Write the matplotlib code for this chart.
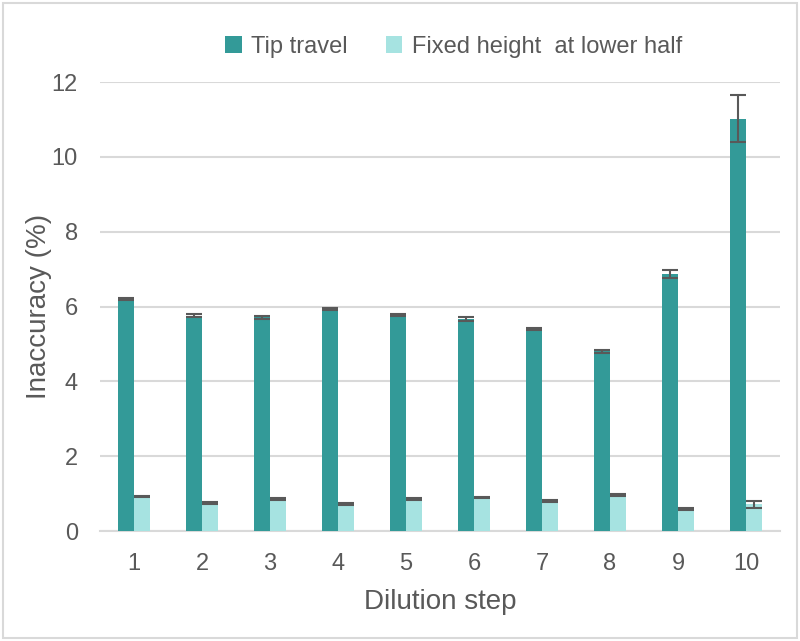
import matplotlib.pyplot as plt
import numpy as np
from matplotlib.patches import Rectangle

plt.rcParams['font.family'] = ['Liberation Sans', 'DejaVu Sans']

steps = ['1', '2', '3', '4', '5', '6', '7', '8', '9', '10']
tip_travel = [6.20, 5.75, 5.71, 5.93, 5.78, 5.66, 5.40, 4.80, 6.86, 11.02]
tip_err = [0.03, 0.04, 0.05, 0.03, 0.03, 0.05, 0.03, 0.04, 0.11, 0.63]
fixed_height = [0.92, 0.75, 0.86, 0.72, 0.86, 0.90, 0.81, 0.96, 0.59, 0.71]
fixed_err = [0.02, 0.02, 0.02, 0.02, 0.03, 0.02, 0.03, 0.02, 0.03, 0.10]

dark = '#339a98'
light = '#a6e3e1'
grey = '#595959'

fig = plt.figure(figsize=(8, 6.41), dpi=100)
ax = fig.add_axes([0.125, 0.1716, 0.85, 0.7004])

x = np.arange(len(steps))
w = 0.235
ekw = dict(ecolor=grey, elinewidth=1.5, capsize=6, capthick=1.5)
ax.bar(x - w / 2, tip_travel, w, color=dark, yerr=tip_err, error_kw=ekw,
       label='Tip travel', zorder=3)
ax.bar(x + w / 2, fixed_height, w, color=light, yerr=fixed_err, error_kw=ekw,
       label='Fixed height  at lower half', zorder=3)

ax.set_xlim(-0.5, len(steps) - 0.5)
ax.set_ylim(0, 12)
ax.set_yticks(np.arange(0, 13, 2))
ax.set_xticks(x)
ax.set_xticklabels(steps)
ax.grid(axis='y', color='#d9d9d9', linewidth=1.5, zorder=0)
for s in ['top', 'right', 'left']:
    ax.spines[s].set_visible(False)
ax.spines['bottom'].set_color('#d9d9d9')
ax.spines['bottom'].set_linewidth(1.5)
ax.tick_params(length=0, labelsize=17, colors=grey, pad=16)
ax.set_xlabel('Dilution step', fontsize=20, color=grey, labelpad=10)
ax.set_ylabel('Inaccuracy (%)', fontsize=20, color=grey, labelpad=0)

fig.legend(loc='center', bbox_to_anchor=(0.567, 0.927), ncol=2, frameon=False,
           fontsize=17, labelcolor=grey, handlelength=0.7, handleheight=0.7,
           handletextpad=0.4, columnspacing=1.6)

fig.patches.append(Rectangle((0.004, 0.004), 0.992, 0.992, transform=fig.transFigure,
                             fill=False, edgecolor='#d9d9d9', linewidth=1.5))

fig.savefig('out.png', dpi=100)
